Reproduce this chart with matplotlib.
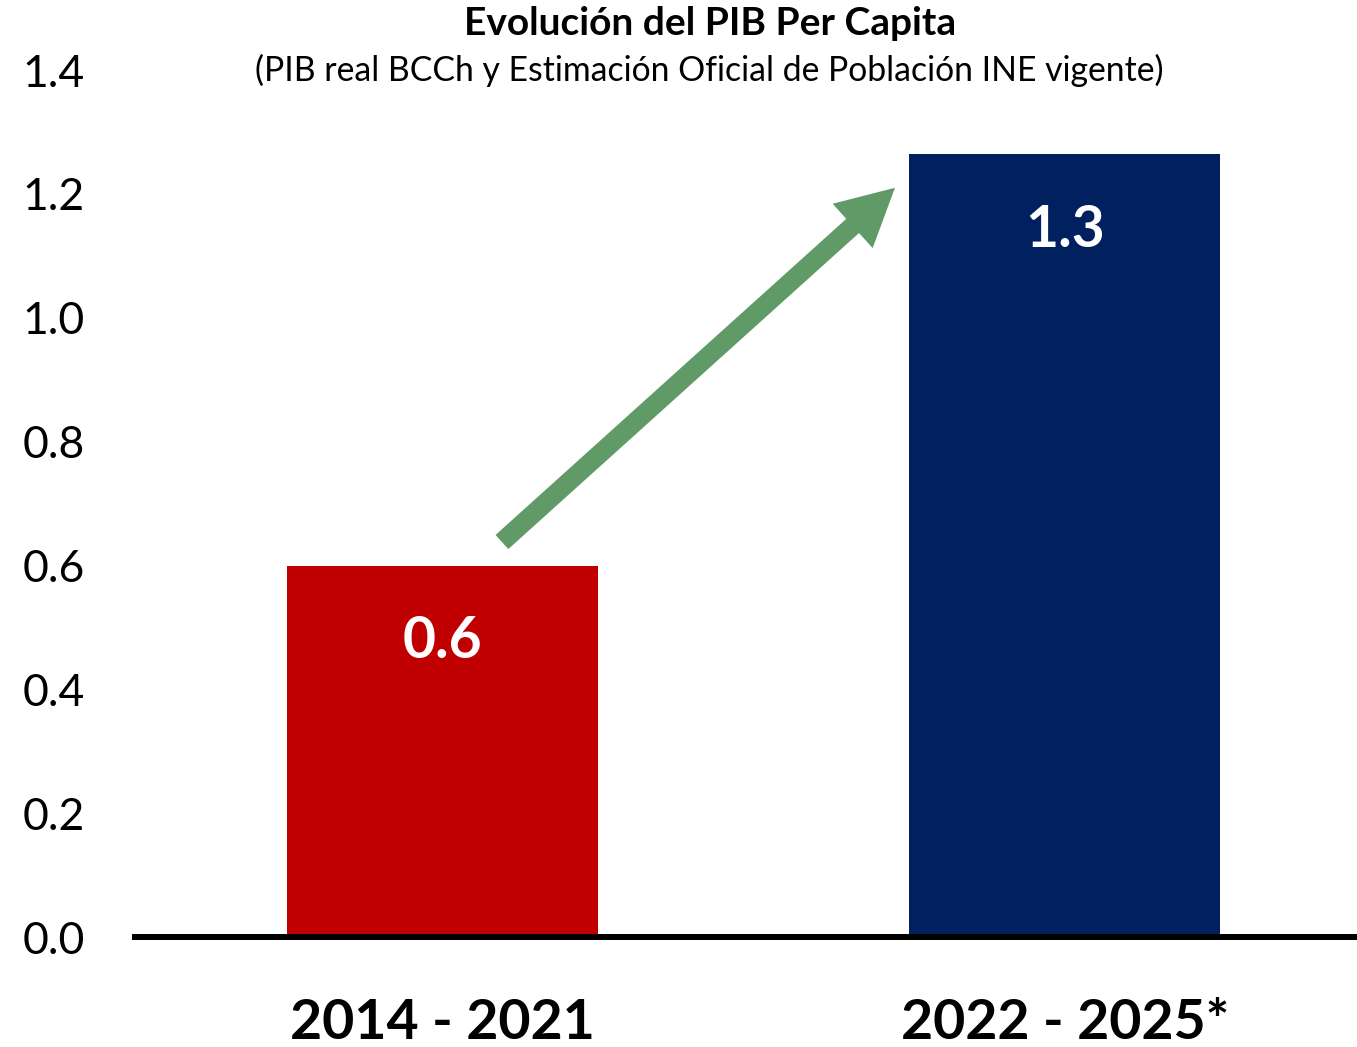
import matplotlib.pyplot as plt

plt.rcParams["font.family"] = ["Lato", "DejaVu Sans"]

periods = ["2014 - 2021", "2022 - 2025*"]
growth = [0.60, 1.265]
bar_colors = ["#C00000", "#002060"]
y_ticks = [0.0, 0.2, 0.4, 0.6, 0.8, 1.0, 1.2, 1.4]

title = "Evolución del PIB Per Capita"
subtitle = "(PIB real BCCh y Estimación Oficial de Población INE vigente)"

fig = plt.figure(figsize=(13.57, 10.47), dpi=100)
ax = fig.add_axes([0.0995, 0.105, 0.9005, 0.828])

x = list(range(len(periods)))
ax.bar(x, growth, width=0.5, color=bar_colors, zorder=2)

for xi, v in zip(x, growth):
    ax.annotate(f"{v:.1f}", (xi, v), xytext=(0, -55), textcoords="offset points",
                ha="center", va="center", color="white", fontsize=41,
                fontweight="bold")

# green arrow from the first bar to the second
ax.annotate("", xy=(x[1] - 0.273, growth[1] - 0.055),
            xytext=(x[0] + 0.095, growth[0] + 0.038),
            arrowprops=dict(arrowstyle="simple,head_length=41,head_width=43,tail_width=13.7",
                            mutation_scale=1, color="#5F9A67", shrinkA=0, shrinkB=0,
                            lw=0))

ax.set_xlim(-0.495, 1.47)
ax.set_ylim(0, 1.4)
ax.set_yticks(y_ticks)
ax.set_yticklabels([f"{t:.1f}" for t in y_ticks], fontsize=32)
ax.set_xticks(x)
ax.set_xticklabels(periods, fontsize=40, fontweight="bold")
ax.tick_params(axis="y", length=0, pad=36)
ax.tick_params(axis="x", length=0, pad=44)

for side in ["left", "right", "top"]:
    ax.spines[side].set_visible(False)
ax.spines["bottom"].set_linewidth(4.3)
ax.spines["bottom"].set_zorder(3)

fig.text(0.523, 0.978, title, ha="center", va="center", fontsize=28,
         fontweight="bold")
fig.text(0.523, 0.933, subtitle, ha="center", va="center", fontsize=24.3)

fig.savefig("out.png", dpi=100)
